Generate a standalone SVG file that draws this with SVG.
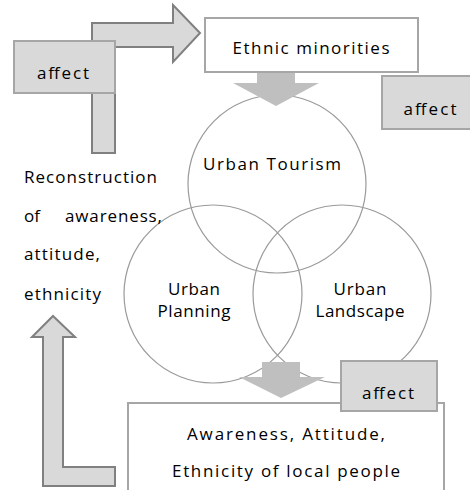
<svg xmlns="http://www.w3.org/2000/svg" width="470" height="490" viewBox="0 0 470 490">
<style>
text{font-family:"Open Sans","Noto Sans","DejaVu Sans",sans-serif;font-size:17px;fill:#000}
.c{text-anchor:middle}
.circ{fill:none;stroke:#9a9a9a;stroke-width:1.2}
.box{fill:#fff;stroke:#a6a6a6;stroke-width:2}
.aff{fill:#d9d9d9;stroke:#a6a6a6;stroke-width:2}
.larr{fill:#d9d9d9;stroke:#808080;stroke-width:2;stroke-linejoin:miter}
.darr{fill:#bfbfbf}
</style>
<g id="circles">
<g id="urban-tourism"><circle class="circ" cx="277" cy="184" r="89"/><text x="272" y="170" class="c" textLength="138" lengthAdjust="spacing">Urban Tourism</text></g>
<g id="urban-planning"><circle class="circ" cx="213" cy="294" r="89"/><text x="194" y="295" class="c" textLength="52" lengthAdjust="spacing">Urban</text><text x="194" y="317" class="c" textLength="73" lengthAdjust="spacing">Planning</text></g>
<g id="urban-landscape"><circle class="circ" cx="342" cy="294" r="89"/><text x="360" y="295" class="c" textLength="53" lengthAdjust="spacing">Urban</text><text x="360" y="317" class="c" textLength="89" lengthAdjust="spacing">Landscape</text></g>
</g>
<g id="connectors">
<path class="larr" d="M92,153 L92,23 L173,23 L173,5 L200,33 L173,62 L173,47 L115,47 L115,153 Z"/>
<path class="larr" d="M53,316 L75,337 L63,337 L63,467 L115,467 L115,486 L43,486 L43,337 L32,337 Z"/>
<path class="darr" d="M257,65 L295,65 L295,83 L319,83 L276,106 L233,83 L257,83 Z"/>
<path class="darr" d="M262,362 L300,362 L300,377 L325,377 L281,398 L239,377 L262,377 Z"/>
</g>
<g id="ethnic-minorities"><rect class="box" x="205" y="18" width="213" height="54"/><text x="311" y="54" class="c" textLength="157" lengthAdjust="spacing">Ethnic minorities</text></g>
<g id="local-people"><rect class="box" x="128" y="403" width="316" height="100"/><text x="286" y="440" class="c" textLength="198" lengthAdjust="spacing">Awareness, Attitude,</text><text x="286" y="477" class="c" textLength="228" lengthAdjust="spacing">Ethnicity of local people</text></g>
<g id="affect-1"><rect class="aff" x="14" y="41" width="101" height="52"/><text x="63" y="79" class="c" textLength="52" lengthAdjust="spacing">affect</text></g>
<g id="affect-2"><rect class="aff" x="382" y="76" width="90" height="53"/><text x="430" y="115" class="c" textLength="53" lengthAdjust="spacing">affect</text></g>
<g id="affect-3"><rect class="aff" x="341" y="361" width="96" height="50"/><text x="388" y="399" class="c" textLength="52" lengthAdjust="spacing">affect</text></g>
<g id="reconstruction">
<text x="24" y="183" textLength="133" lengthAdjust="spacing">Reconstruction</text>
<text x="24" y="222">of</text>
<text x="65" y="222" textLength="97" lengthAdjust="spacing">awareness,</text>
<text x="24" y="260" textLength="76" lengthAdjust="spacing">attitude,</text>
<text x="24" y="300" textLength="77" lengthAdjust="spacing">ethnicity</text>
</g>
</svg>
